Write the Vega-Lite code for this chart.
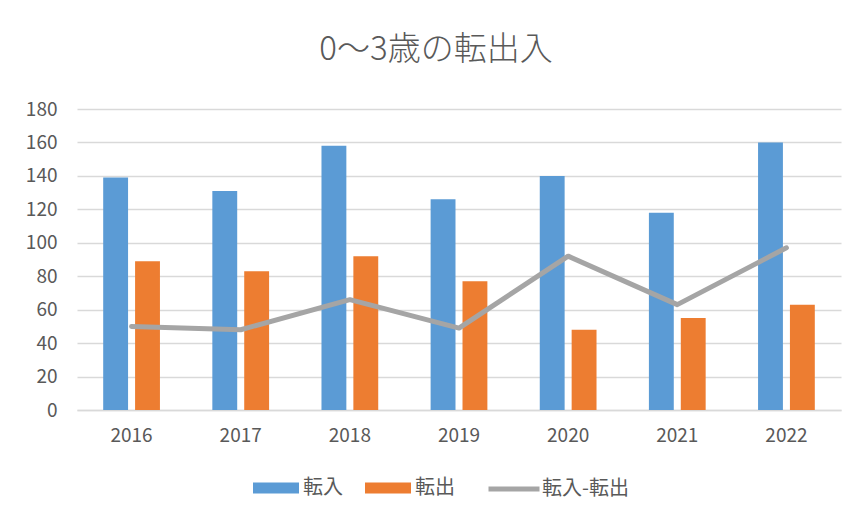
{
  "$schema": "https://vega.github.io/schema/vega-lite/v6.json",
  "autosize": {"type": "none"},
  "width": 764,
  "height": 301,
  "padding": {"left": 77, "top": 109, "right": 20, "bottom": 110},
  "background": "white",
  "title": {
    "text": "0〜3歳の転出入",
    "anchor": "middle",
    "dx": -23,
    "offset": 33,
    "font": "Noto Sans CJK JP",
    "fontSize": 33,
    "fontWeight": 300,
    "color": "#595959"
  },
  "data": {
    "values": [
      {"year": "2016", "series": "転入", "value": 139},
      {"year": "2016", "series": "転出", "value": 89},
      {"year": "2016", "series": "転入-転出", "value": 50},
      {"year": "2017", "series": "転入", "value": 131},
      {"year": "2017", "series": "転出", "value": 83},
      {"year": "2017", "series": "転入-転出", "value": 48},
      {"year": "2018", "series": "転入", "value": 158},
      {"year": "2018", "series": "転出", "value": 92},
      {"year": "2018", "series": "転入-転出", "value": 66},
      {"year": "2019", "series": "転入", "value": 126},
      {"year": "2019", "series": "転出", "value": 77},
      {"year": "2019", "series": "転入-転出", "value": 49},
      {"year": "2020", "series": "転入", "value": 140},
      {"year": "2020", "series": "転出", "value": 48},
      {"year": "2020", "series": "転入-転出", "value": 92},
      {"year": "2021", "series": "転入", "value": 118},
      {"year": "2021", "series": "転出", "value": 55},
      {"year": "2021", "series": "転入-転出", "value": 63},
      {"year": "2022", "series": "転入", "value": 160},
      {"year": "2022", "series": "転出", "value": 63},
      {"year": "2022", "series": "転入-転出", "value": 97}
    ]
  },
  "encoding": {
    "x": {
      "field": "year",
      "type": "nominal",
      "scale": {"paddingInner": 0.48, "paddingOuter": 0.24},
      "axis": {
        "title": null,
        "labelAngle": 0,
        "ticks": false,
        "domainColor": "#d9d9d9",
        "domainWidth": 1.5,
        "labelFont": "Noto Sans CJK JP",
        "labelFontSize": 19,
        "labelColor": "#595959",
        "labelPadding": 16,
        "grid": false
      }
    },
    "y": {
      "field": "value",
      "type": "quantitative",
      "scale": {"domain": [0, 180]},
      "axis": {
        "title": null,
        "values": [0, 20, 40, 60, 80, 100, 120, 140, 160, 180],
        "domain": false,
        "ticks": false,
        "gridColor": "#d9d9d9",
        "gridWidth": 1.5,
        "labelFont": "Noto Sans CJK JP",
        "labelFontSize": 19,
        "labelColor": "#595959",
        "labelPadding": 20
      }
    }
  },
  "layer": [
    {
      "transform": [{"filter": "datum.series !== '転入-転出'"}],
      "mark": {"type": "bar"},
      "encoding": {
        "xOffset": {
          "field": "series",
          "type": "nominal",
          "sort": ["転入", "転出"],
          "scale": {"paddingInner": 0.22, "paddingOuter": 0}
        },
        "color": {
          "field": "series",
          "type": "nominal",
          "sort": ["転入", "転出"],
          "scale": {"domain": ["転入", "転出"], "range": ["#5b9bd5", "#ed7d31"]},
          "legend": {
            "title": null,
            "orient": "none",
            "legendX": 176,
            "legendY": 356,
            "direction": "horizontal",
            "symbolType": "M-1,-0.24H1V0.24H-1Z",
            "symbolSize": 2116,
            "symbolStrokeWidth": 0,
            "labelFont": "Noto Sans CJK JP",
            "labelFontSize": 20,
            "labelColor": "#595959",
            "labelOffset": 4,
            "columnPadding": 22
          }
        }
      }
    },
    {
      "transform": [{"filter": "datum.series === '転入-転出'"}],
      "mark": {"type": "line", "strokeWidth": 5, "strokeCap": "round", "strokeJoin": "round"},
      "encoding": {
        "stroke": {
          "field": "series",
          "type": "nominal",
          "scale": {"domain": ["転入-転出"], "range": ["#a5a5a5"]},
          "legend": {
            "title": null,
            "orient": "none",
            "legendX": 409,
            "legendY": 352,
            "direction": "horizontal",
            "symbolType": "stroke",
            "symbolSize": 2601,
            "symbolStrokeWidth": 5,
            "labelFont": "Noto Sans CJK JP",
            "labelFontSize": 20,
            "labelColor": "#595959",
            "labelOffset": 0
          }
        }
      }
    }
  ],
  "config": {
    "view": {"stroke": null}
  }
}
